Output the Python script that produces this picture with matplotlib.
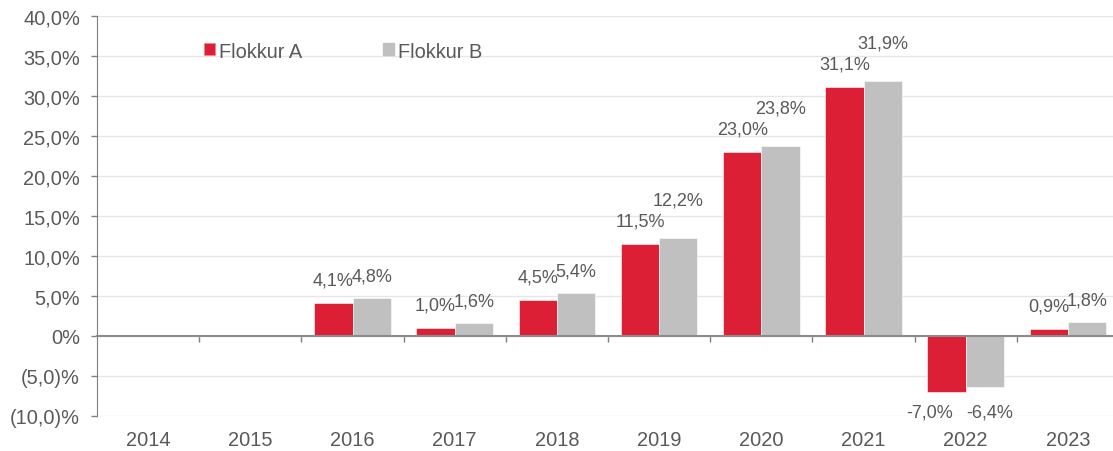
import matplotlib.pyplot as plt
import numpy as np
from matplotlib.ticker import FuncFormatter
from matplotlib.patches import Patch

plt.rcParams['font.family'] = ['Liberation Sans', 'DejaVu Sans']

# data
years = ['2014', '2015', '2016', '2017', '2018', '2019', '2020', '2021', '2022', '2023']
flokkur_a = [np.nan, np.nan, 4.1, 1.0, 4.5, 11.5, 23.0, 31.1, -7.0, 0.9]
flokkur_b = [np.nan, np.nan, 4.8, 1.6, 5.4, 12.2, 23.8, 31.9, -6.4, 1.8]
series_names = ['Flokkur A', 'Flokkur B']

red = '#dc1f35'
grey = '#bfc0bf'
txt = '#595959'
fs = 14.4

fig = plt.figure(figsize=(11.13, 4.52), dpi=100)
ax = fig.add_axes([97 / 1113, 35 / 452, 1022 / 1113, 400 / 452])

x = np.arange(len(years))
w = 0.375
ax.bar(x - w / 2, flokkur_a, w, color=red, edgecolor='white', linewidth=0.4, zorder=3)
ax.bar(x + w / 2, flokkur_b, w, color=grey, edgecolor='white', linewidth=0.4, zorder=3)


def lbl(v):
    return f'{v:.1f}%'.replace('.', ',')


px = 50 / 400  # data units per pixel on y
for xi, a, b in zip(x, flokkur_a, flokkur_b):
    if np.isnan(a):
        continue
    if a >= 0:
        ya = a + 23 * px
        yb = b + 22 * px
        # push the B label up when the two labels would collide
        if len(lbl(a)) >= 5:
            yb = max(yb, ya + 21 * px)
        ax.text(xi - w / 2, ya, lbl(a), ha='center', va='center', fontsize=13, color=txt)
        ax.text(xi + w / 2, yb, lbl(b), ha='center', va='center', fontsize=13, color=txt)
    else:
        ax.annotate(lbl(a), (xi - w / 2, -9.5), xytext=(-12, 0), textcoords='offset points',
                    ha='center', va='center', fontsize=13, color=txt)
        ax.annotate(lbl(b), (xi + w / 2, -9.5), xytext=(3.6, 0), textcoords='offset points',
                    ha='center', va='center', fontsize=13, color=txt)

ax.set_ylim(-10, 40)
ax.set_xlim(-0.5, len(years) - 0.5)
ax.set_yticks(np.arange(-10, 41, 5))


def yfmt(v, pos):
    if v == 0:
        return '0%'
    if v < 0:
        return f'({-v:.1f})%'.replace('.', ',')
    return f'{v:.1f}%'.replace('.', ',')


ax.yaxis.set_major_formatter(FuncFormatter(yfmt))
ax.tick_params(axis='y', length=4.3, width=1, color='#7f7f7f', pad=8, labelsize=fs, labelcolor=txt)
ax.grid(axis='y', color='#e6e6e6', linewidth=1, zorder=0)

for s in ['top', 'right']:
    ax.spines[s].set_visible(False)
ax.spines['left'].set_color('#7f7f7f')
ax.spines['bottom'].set_position(('data', 0))
ax.spines['bottom'].set_color('#8c8c8c')
ax.spines['bottom'].set_linewidth(1.5)
ax.spines['bottom'].set_zorder(4)
ax.set_xticks(np.arange(0.5, len(years) - 0.5, 1))
ax.tick_params(axis='x', length=4, width=1, color='#7f7f7f', labelbottom=False)

sec = ax.secondary_xaxis('bottom')
sec.set_xticks(x)
sec.set_xticklabels(years)
sec.tick_params(length=0, pad=10, labelsize=fs, labelcolor=txt)
sec.spines['bottom'].set_visible(False)

handles = [Patch(facecolor=red, edgecolor='#f08090', linewidth=0.5),
           Patch(facecolor=grey, edgecolor=grey)]
ax.legend(handles, series_names, loc='center left',
          bbox_to_anchor=((204 - 97) / 1022, (417 - 52) / 400),
          ncol=2, frameon=False, fontsize=fs, labelcolor=txt, handlelength=0.55,
          handleheight=0.55, handletextpad=0.2, columnspacing=4.05,
          borderpad=0, borderaxespad=0)

fig.savefig('out.png', dpi=100)
